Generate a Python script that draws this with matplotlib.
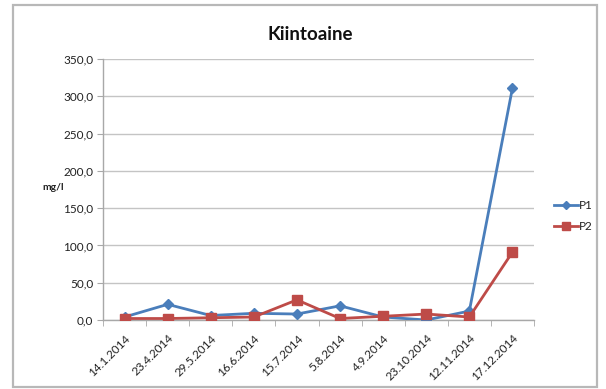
import matplotlib
matplotlib.use("Agg")
import matplotlib.pyplot as plt
from matplotlib.patches import Rectangle
import numpy as np

dates = ["14.1.2014", "23.4.2014", "29.5.2014", "16.6.2014", "15.7.2014",
         "5.8.2014", "4.9.2014", "23.10.2014", "12.11.2014", "17.12.2014"]
p1 = [4, 21, 6, 9, 8, 19, 4, 0, 12, 311]
p2 = [2, 2, 3, 4, 27, 2, 5, 8, 4, 91]
yticks = [0, 50, 100, 150, 200, 250, 300, 350]

plt.rcParams['font.family'] = ['Lato', 'DejaVu Sans']

W, H = 606, 389
fig = plt.figure(figsize=(W / 100, H / 100), dpi=100)

# outer chart frame
fig.patches.append(Rectangle((13 / W, 2 / H), 584 / W, 382 / H,
                             transform=fig.transFigure, fill=False,
                             edgecolor="#b8b8b8", linewidth=1.6))

ax = fig.add_axes([103 / W, 1 - 320 / H, 431 / W, 261 / H])
x = np.arange(len(dates))

ax.plot(x, p1, color="#4a7ebb", marker="D", markersize=5, linewidth=2, label="P1", zorder=3)
ax.plot(x, p2, color="#be4b48", marker="s", markersize=7, linewidth=2, label="P2", zorder=3)

ax.set_xlim(-0.5, len(dates) - 0.5)
ax.set_ylim(0, 350)
ax.set_yticks(yticks)
ax.set_yticklabels([f"{v:.1f}".replace(".", ",") for v in yticks], fontsize=8.5, color="#222222")
ax.yaxis.grid(True, color="#c4c4c4", linewidth=1)
ax.set_axisbelow(True)

ax.set_xticks(x)
ax.set_xticklabels(dates, rotation=45, ha="right", rotation_mode="anchor",
                   fontsize=8.5, color="#222222")
ax.tick_params(axis="x", length=0, pad=9)
ax.set_xticks(np.arange(-0.5, len(dates)), minor=True)
ax.tick_params(axis="x", which="minor", length=4, color="#a8a8a8")
ax.tick_params(axis="y", length=4, color="#a8a8a8", pad=3)

for s in ["top", "right"]:
    ax.spines[s].set_visible(False)
for s in ["left", "bottom"]:
    ax.spines[s].set_color("#a8a8a8")
    ax.spines[s].set_linewidth(1)

fig.text(310 / W, 1 - 34 / H, "Kiintoaine", ha="center", va="center",
         fontsize=13.5, fontweight="bold", color="#111111")
fig.text(53 / W, 1 - 188 / H, "mg/l", ha="center", va="center",
         fontsize=7.5, fontweight="bold", color="#222222")

leg = fig.legend(loc="center left", bbox_to_anchor=(548 / W, 1 - 216 / H),
                 frameon=False, fontsize=8.5, handlelength=2.0, handletextpad=0.15,
                 labelspacing=0.9, borderpad=0, markerscale=0.8)
for t in leg.get_texts():
    t.set_color("#222222")

fig.savefig("out.png", dpi=100)
